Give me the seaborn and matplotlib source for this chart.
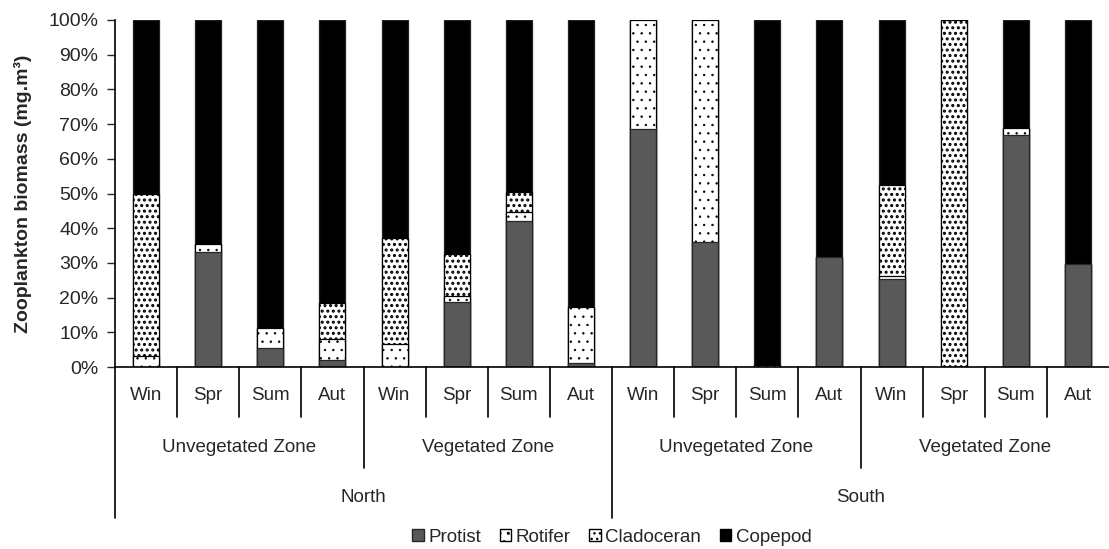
import matplotlib
matplotlib.use("Agg")
import matplotlib.pyplot as plt
import matplotlib.transforms as mtransforms
from matplotlib.patches import Patch
import seaborn as sns
import pandas as pd
import numpy as np

sns.set_style("white")
plt.rcParams["font.family"] = ["Liberation Sans", "DejaVu Sans"]
plt.rcParams["font.size"] = 13.5

# ---------------- data (percent of total biomass) ----------------
regions = ["North", "South"]
zones = ["Unvegetated Zone", "Vegetated Zone"]
seasons = ["Win", "Spr", "Sum", "Aut"]

protist = [0.0, 33.2, 5.6, 1.9,
           0.0, 18.7, 42.1, 1.1,
           68.5, 36.1, 0.0, 31.7,
           25.4, 0.0, 67.0, 29.8]
rotifer = [3.2, 2.2, 5.5, 6.1,
           6.5, 1.9, 2.7, 16.2,
           31.5, 63.9, 0.7, 0.0,
           0.8, 0.0, 2.0, 0.0]
cladoceran = [46.8, 0.0, 0.0, 10.5,
              30.8, 11.9, 5.6, 0.0,
              0.0, 0.0, 0.0, 0.0,
              26.2, 100.0, 0.0, 0.0]

rows = []
i = 0
for r in regions:
    for z in zones:
        for s in seasons:
            rows.append(dict(key=str(i), region=r, zone=z, season=s))
            i += 1
df = pd.DataFrame(rows)
df["Protist"] = protist
df["Rotifer"] = rotifer
df["Cladoceran"] = cladoceran
df["Copepod"] = 100 - df[["Protist", "Rotifer", "Cladoceran"]].sum(axis=1)

# cumulative tops for stacking
df["top_protist"] = df["Protist"]
df["top_rotifer"] = df["top_protist"] + df["Rotifer"]
df["top_clad"] = df["top_rotifer"] + df["Cladoceran"]
df["top_cope"] = df["top_clad"] + df["Copepod"]


def style_hatch(p, kind):
    if kind == "ro":
        p.set_hatch("..")
        if hasattr(p, "set_hatch_linewidth"):
            p.set_hatch_linewidth(0.5)
    elif kind == "cl":
        p.set_hatch("...")
        if hasattr(p, "set_hatch_linewidth"):
            p.set_hatch_linewidth(1.45)


fig = plt.figure(figsize=(11.09, 5.49), dpi=100)
ax = fig.add_axes([115 / 1109, 1 - 367 / 549, 994 / 1109, 347 / 549])

order = list(df.key)
layers = [
    ("top_cope", "black", "#222222", None),
    ("top_clad", "white", "black", "cl"),
    ("top_rotifer", "white", "black", "ro"),
    ("top_protist", "#595959", "#262626", None),
]
for col, fc, ec, h in layers:
    n_before = len(ax.patches)
    sns.barplot(data=df, x="key", y=col, order=order, ax=ax, color=fc,
                saturation=1, width=0.42, edgecolor=ec, linewidth=0.9)
    for p in ax.patches[n_before:]:
        p.set_facecolor(fc)
        style_hatch(p, h)

ax.set_ylim(0, 100)
ax.set_xlim(-0.5, len(df) - 0.5)
ax.set_yticks(np.arange(0, 101, 10))
ax.set_yticklabels([f"{v}%" for v in range(0, 101, 10)], fontsize=14)
ax.tick_params(axis="y", left=True, length=6, width=1, direction="out", pad=6)
ax.set_xticks([])
ax.set_xlabel("")
ax.set_ylabel("Zooplankton biomass (mg.m³)", fontweight="bold", fontsize=14, labelpad=12)

for s in ["top", "right"]:
    ax.spines[s].set_visible(False)
for s in ["left", "bottom"]:
    ax.spines[s].set_linewidth(1.2)
    ax.spines[s].set_color("black")

# multi-level category axis
tr = mtransforms.blended_transform_factory(ax.transData, fig.transFigure)


def fy(px):
    return 1 - px / 549


n = len(df)
for k in range(n):
    x0 = k - 0.5
    if k % 8 == 0:
        bottom = 518
    elif k % 4 == 0:
        bottom = 468
    else:
        bottom = 417
    ax.add_line(plt.Line2D([x0, x0], [fy(367), fy(bottom)], transform=tr,
                           color="black", lw=1.2, clip_on=False))
    ax.text(k, fy(395), df.season[k], transform=tr, ha="center", va="center")

for g in range(4):
    ax.text(g * 4 + 1.5, fy(447), df.zone[g * 4], transform=tr, ha="center",
            va="center")
for g in range(2):
    ax.text(g * 8 + 3.5, fy(497), df.region[g * 8], transform=tr, ha="center",
            va="center")

handles = [
    Patch(facecolor="#595959", edgecolor="#262626", label="Protist"),
    Patch(facecolor="white", edgecolor="black", label="Rotifer"),
    Patch(facecolor="white", edgecolor="black", label="Cladoceran"),
    Patch(facecolor="black", edgecolor="black", label="Copepod"),
]
style_hatch(handles[1], "ro")
style_hatch(handles[2], "cl")
fig.legend(handles=handles, loc="center", bbox_to_anchor=(612 / 1109, 1 - 537 / 549),
           ncol=4, frameon=False, handlelength=0.6, handleheight=0.6,
           handletextpad=0.25, columnspacing=1.0, fontsize=13.5)

fig.savefig("out.png", dpi=100, facecolor="w")
